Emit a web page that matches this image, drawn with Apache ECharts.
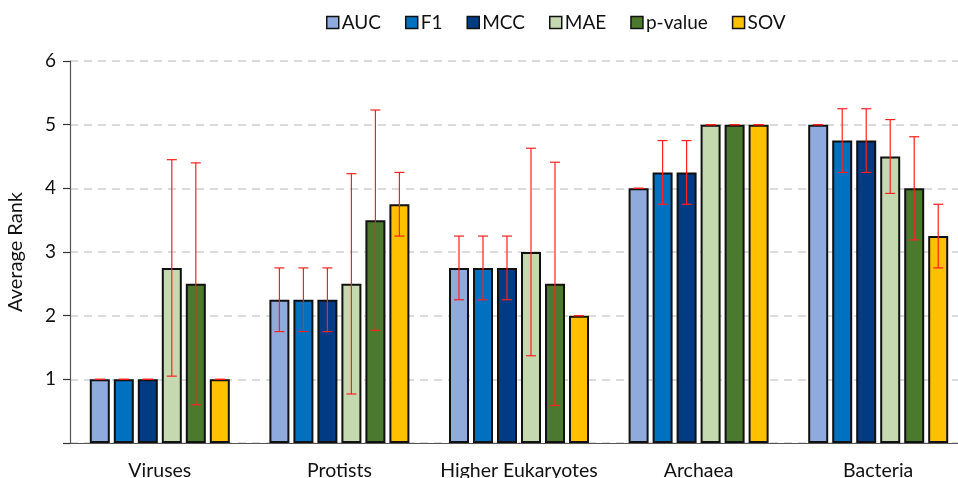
<!DOCTYPE html>
<html lang="en">
	<head>
		<meta charset="UTF-8" />
		<title>Average Rank</title>
		<style>
			* {
				box-sizing: border-box;
				margin: 0;
				padding: 0;
			}

			.container {
				width: 958px;
				height: 478px;
				background-color: #fff;
			}
		</style>
	</head>
	<body>
		<div class="container" id="chart"></div>
		<script src="https://cdn.jsdelivr.net/npm/echarts@6/dist/echarts.min.js"></script>
		<script>
			// categories and metrics
			const categories = ['Viruses', 'Protists', 'Higher Eukaryotes', 'Archaea', 'Bacteria']
			const metrics = ['AUC', 'F1', 'MCC', 'MAE', 'p-value', 'SOV']

			// average rank per metric
			const auc = [1, 2.25, 2.75, 4, 5]
			const f1 = [1, 2.25, 2.75, 4.25, 4.75]
			const mcc = [1, 2.25, 2.75, 4.25, 4.75]
			const mae = [2.75, 2.5, 3, 5, 4.5]
			const pValue = [2.5, 3.5, 2.5, 5, 4]
			const sov = [1, 3.75, 2, 5, 3.25]

			// error (± half length)
			const aucErr = [0, 0.5, 0.5, 0, 0]
			const f1Err = [0, 0.5, 0.5, 0.5, 0.5]
			const mccErr = [0, 0.5, 0.5, 0.5, 0.5]
			const maeErr = [1.7, 1.73, 1.63, 0, 0.58]
			const pValueErr = [1.9, 1.73, 1.91, 0, 0.81]
			const sovErr = [0, 0.5, 0, 0, 0.5]

			const yTicks = [0, 1, 2, 3, 4, 5, 6]

			const values = [auc, f1, mcc, mae, pValue, sov]
			const errors = [aucErr, f1Err, mccErr, maeErr, pValueErr, sovErr]
			const colors = ['#8faadc', '#0070c0', '#003b84', '#c5d9b1', '#4b7a2e', '#ffc000']

			const font = 'Lato, "Open Sans", sans-serif'
			const barW = 20
			const pitch = 24

			const chart = echarts.init(document.getElementById('chart'))

			const barSeries = metrics.map((name, i) => ({
				name: name,
				type: 'bar',
				barWidth: barW,
				barGap: '20%',
				itemStyle: {
					color: colors[i],
					borderColor: '#111',
					borderWidth: 2
				},
				data: values[i]
			}))

			// error bars drawn next to each bar
			const errSeries = metrics.map((name, i) => ({
				type: 'custom',
				z: 5,
				silent: true,
				data: categories.map((c, k) => [k, values[i][k], errors[i][k]]),
				renderItem: function (params, api) {
					const k = api.value(0)
					const v = api.value(1)
					const e = api.value(2)
					const top = api.coord([k, v + e])
					const bot = api.coord([k, v - e])
					const x = top[0] + (i - 2.5) * pitch
					const style = { stroke: '#ff2020', lineWidth: 1.2 }
					return {
						type: 'group',
						children: [
							{ type: 'line', shape: { x1: x, y1: top[1], x2: x, y2: bot[1] }, style: style },
							{ type: 'line', shape: { x1: x - 5, y1: top[1], x2: x + 5, y2: top[1] }, style: style },
							{ type: 'line', shape: { x1: x - 5, y1: bot[1], x2: x + 5, y2: bot[1] }, style: style }
						]
					}
				}
			}))

			chart.setOption({
				animation: false,
				textStyle: { fontFamily: font },
				legend: {
					top: 8,
					left: 321,
					itemWidth: 12,
					itemHeight: 12,
					itemGap: 24,
					icon: 'rect',
					itemStyle: { borderColor: '#111', borderWidth: 1.5 },
					textStyle: { fontSize: 19, color: '#111', fontFamily: font, padding: [0, 0, 0, -2] },
					data: metrics
				},
				grid: {
					left: 70,
					top: 61,
					width: 898,
					bottom: 35,
					outerBoundsMode: 'none'
				},
				xAxis: [{
					type: 'category',
					data: categories,
					axisLine: { lineStyle: { color: '#555', width: 1.2 } },
					axisTick: { length: 6, lineStyle: { color: '#333', width: 1.2 } },
					axisLabel: { interval: 0, fontSize: 19.5, color: '#111', fontFamily: font, margin: 18 }
				}, {
					type: 'category',
					position: 'bottom',
					data: categories,
					axisLine: { show: false },
					axisTick: { inside: true, length: 6, lineStyle: { color: '#333', width: 1.2 } },
					axisLabel: { show: false }
				}],
				yAxis: {
					type: 'value',
					min: yTicks[0],
					max: yTicks[yTicks.length - 1],
					interval: 1,
					name: 'Average Rank',
					nameLocation: 'middle',
					nameGap: 44,
					nameTextStyle: { fontSize: 20, color: '#111', fontFamily: font },
					axisLine: { show: true, lineStyle: { color: '#555', width: 1.2 } },
					axisTick: { show: true, length: 7, lineStyle: { color: '#333', width: 1.2 } },
					axisLabel: {
						fontSize: 19,
						color: '#111',
						fontFamily: font,
						margin: 14,
						formatter: v => (v === 0 ? '' : v)
					},
					splitLine: {
						lineStyle: { color: '#d0d0d0', type: [8, 6], width: 1.5 }
					}
				},
				series: barSeries.concat(errSeries)
			})
		</script>
	</body>
</html>
